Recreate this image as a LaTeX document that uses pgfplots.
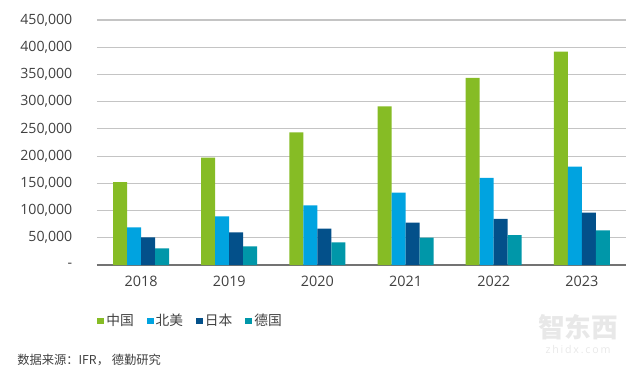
\documentclass[border=0pt]{standalone}
\usepackage{fontspec}
\setmainfont{Open Sans}
\newfontfamily\cjk{Noto Sans CJK SC}
\usepackage{pgfplots}
\pgfplotsset{compat=1.18}
\definecolor{cgreen}{HTML}{86BC25}
\definecolor{cblue}{HTML}{00A3E0}
\definecolor{cnavy}{HTML}{03508A}
\definecolor{cteal}{HTML}{0097A9}
\definecolor{ctext}{HTML}{404040}
\definecolor{cgrid}{HTML}{C4C4C4}
\begin{document}
\begin{tikzpicture}
\useasboundingbox (0,0) rectangle (480pt,276pt);
\begin{axis}[
  at={(72.75pt,77.25pt)}, anchor=south west,
  scale only axis, width=396.75pt, height=183.75pt,
  xmin=-0.5, xmax=5.5, ymin=0, ymax=450000,
  scaled y ticks=false,
  ybar=0pt, bar width=10.5pt,
  legend image code/.code={\fill[#1,draw=none] (0pt,-2.6pt) rectangle (5.2pt,2.6pt);},
  axis x line*=bottom, axis y line*=left,
  y axis line style={draw=none},
  x axis line style={draw=black!55, line width=0.9pt, -},
  major tick length=0pt,
  ymajorgrids, grid style={cgrid, line width=0.8pt},
  xtick={0,1,2,3,4,5},
  xticklabels={2018,2019,2020,2021,2022,2023},
  ytick={0,50000,100000,150000,200000,250000,300000,350000,400000,450000},
  yticklabels={-,{50,000},{100,000},{150,000},{200,000},{250,000},{300,000},{350,000},{400,000},{450,000}},
  yticklabel style={anchor=east, xshift=-15pt, font=\fontsize{10.6}{12}\selectfont, text=ctext},
  xticklabel style={yshift=-5pt, font=\fontsize{10.8}{12}\selectfont, text=ctext},
  legend columns=4,
  legend style={at={(0,-0.2286)}, anchor=west, draw=none, fill=none, inner sep=0pt,
    font=\cjk\fontsize{10.3}{12}\selectfont, text=ctext,
    /tikz/every even column/.append style={column sep=8pt},
    nodes={inner sep=1.6pt}},
]
\addplot[fill=cgreen, draw=none] coordinates {(0,152400) (1,197100) (2,243700) (3,291400) (4,343500) (5,391800)};
\addplot[fill=cblue, draw=none] coordinates {(0,69200) (1,89400) (2,109600) (3,132800) (4,159800) (5,180600)};
\addplot[fill=cnavy, draw=none] coordinates {(0,50900) (1,60000) (2,66700) (3,77700) (4,84500) (5,96100)};
\addplot[fill=cteal, draw=none] coordinates {(0,30600) (1,34300) (2,41600) (3,50200) (4,55100) (5,63700)};
\legend{中国,北美,日本,德国}
\end{axis}
\node[anchor=west, inner sep=0pt, text=black!75, font=\cjk\fontsize{9.2}{11}\selectfont] at (12.75pt,6pt) {数据来源：IFR， 德勤研究};
\node[inner sep=0pt, text=black!9, font=\cjk\bfseries\fontsize{20}{22}\selectfont] at (433.5pt,30.75pt) {智东西};
\node[inner sep=0pt, text=black!9, font=\fontsize{8}{9}\selectfont] at (433.5pt,13.5pt) {z\,h\,i\,d\,x\,.\,c\,o\,m};
\end{tikzpicture}
\end{document}
